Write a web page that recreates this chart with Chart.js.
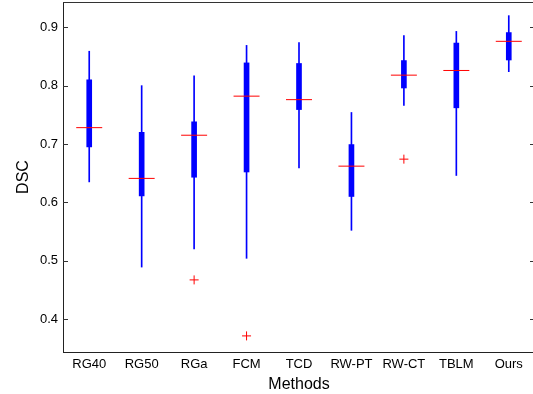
<!DOCTYPE html>
<html>
<head>
<meta charset="utf-8">
<script src="https://cdn.jsdelivr.net/npm/chart.js@4/dist/chart.umd.min.js"></script>
<style>
  html, body { margin: 0; padding: 0; background: #fff; overflow: hidden; }
  #wrap { width: 533px; height: 394px; overflow: hidden; position: relative; }
  /* plot box runs past the right edge and close to the top, like the original figure */
  #boxChart { position: absolute; left: 0; top: -12px; }
</style>
</head>
<body>
<div id="wrap"><canvas id="boxChart" width="549" height="406"></canvas></div>
<script>
// Box plot data (DSC per method)
const methods = ["RG40", "RG50", "RGa", "FCM", "TCD", "RW-PT", "RW-CT", "TBLM", "Ours"];
const whiskerLow = [0.635, 0.489, 0.520, 0.504, 0.659, 0.552, 0.766, 0.646, 0.824];
const q1 = [0.695, 0.611, 0.643, 0.652, 0.759, 0.610, 0.796, 0.762, 0.844];
const medians = [0.728, 0.641, 0.715, 0.782, 0.776, 0.662, 0.818, 0.826, 0.876];
const q3 = [0.810, 0.720, 0.738, 0.839, 0.838, 0.699, 0.843, 0.873, 0.891];
const whiskerHigh = [0.859, 0.800, 0.817, 0.869, 0.874, 0.754, 0.886, 0.893, 0.920];
const outliers = [null, null, 0.467, 0.371, null, null, 0.674, null, null];
const yTicks = [0.4, 0.5, 0.6, 0.7, 0.8, 0.9];

const font = "'Liberation Sans', Arial, sans-serif";

// MATLAB style frame: inward ticks, top + right border
const framePlugin = {
  id: 'frame',
  afterDraw(chart) {
    const ctx = chart.ctx;
    const a = chart.chartArea;
    const y = chart.scales.y;
    ctx.save();
    ctx.strokeStyle = '#333';
    ctx.lineWidth = 1;
    ctx.beginPath();
    ctx.moveTo(a.left, a.top + 0.5);
    ctx.lineTo(a.right, a.top + 0.5);
    ctx.moveTo(a.right - 0.5, a.top);
    ctx.lineTo(a.right - 0.5, a.bottom);
    yTicks.forEach(v => {
      const py = Math.round(y.getPixelForValue(v)) + 0.5;
      ctx.moveTo(a.left, py);
      ctx.lineTo(a.left + 5, py);
      ctx.moveTo(a.right - 5, py);
      ctx.lineTo(a.right, py);
    });
    ctx.stroke();
    ctx.restore();
  }
};

new Chart(document.getElementById('boxChart'), {
  type: 'bar',
  data: {
    labels: methods,
    datasets: [
      {
        label: 'whisker',
        data: whiskerLow.map((v, i) => [v, whiskerHigh[i]]),
        backgroundColor: '#0000ff',
        barThickness: 1,
        grouped: false,
        order: 4
      },
      {
        label: 'box',
        data: q1.map((v, i) => [v, q3[i]]),
        backgroundColor: '#0000ff',
        barThickness: 5,
        grouped: false,
        order: 3
      },
      {
        type: 'line',
        label: 'median',
        data: medians,
        showLine: false,
        pointStyle: 'line',
        pointRadius: 13,
        pointBorderWidth: 1,
        pointBorderColor: '#ff0000',
        order: 2
      },
      {
        type: 'line',
        label: 'outliers',
        data: outliers,
        showLine: false,
        pointStyle: 'cross',
        pointRadius: 4.5,
        pointBorderWidth: 1,
        pointBorderColor: '#ff0000',
        order: 1
      }
    ]
  },
  options: {
    responsive: false,
    animation: false,
    events: [],
    layout: { padding: 0 },
    plugins: { legend: { display: false }, tooltip: { enabled: false } },
    scales: {
      x: {
        offset: true,
        grid: { display: false, drawTicks: false },
        border: { display: true, color: '#222', width: 1 },
        ticks: { color: '#000', font: { family: font, size: 13 }, padding: 5, maxRotation: 0, autoSkip: false },
        title: { display: true, text: 'Methods', color: '#000', font: { family: font, size: 16 }, padding: { top: 0, bottom: 0 } },
        afterFit: s => { s.height = 42; }
      },
      y: {
        min: 0.3434,
        max: 0.9434,
        grid: { display: false, drawTicks: false },
        border: { display: true, color: '#222', width: 1 },
        ticks: {
          color: '#000',
          font: { family: font, size: 13 },
          padding: 5,
          callback: v => Number(v).toFixed(1)
        },
        afterBuildTicks: s => { s.ticks = yTicks.map(v => ({ value: v })); },
        title: { display: true, text: 'DSC', color: '#000', font: { family: font, size: 16 }, padding: { top: 14, bottom: 0 } },
        afterFit: s => { s.width = 63; }
      }
    }
  },
  plugins: [framePlugin]
});
</script>
</body>
</html>
